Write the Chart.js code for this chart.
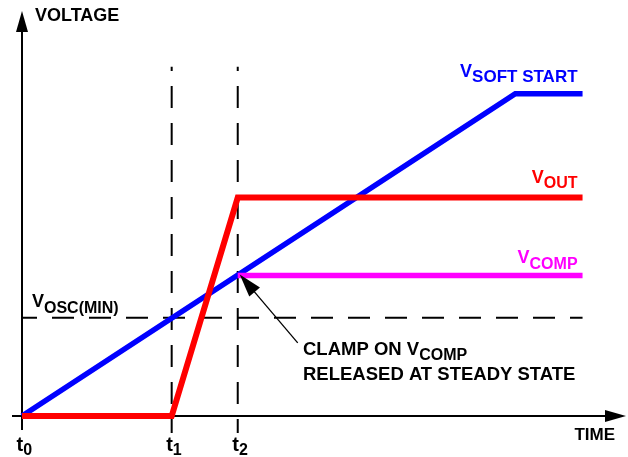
<!DOCTYPE html>
<html>
<head>
<meta charset="utf-8">
<script src="https://cdn.jsdelivr.net/npm/chart.js@4.4.1/dist/chart.umd.min.js"></script>
<style>
  html, body { margin: 0; padding: 0; background: #fff; }
  canvas { display: block; }
</style>
</head>
<body>
<canvas id="chart" width="628" height="457"></canvas>
<script>
// time and voltage in arbitrary units
const T1 = 2.47;
const T2 = 3.56;
const T_RAMP_END = 8.14;
const T_END = 9.25;

const softStartT = [0, T_RAMP_END, T_END];
const softStartV = [0, 3.97, 3.97];
const voutT = [0, T1, T2, T_END];
const voutV = [0, 0, 2.69, 2.69];
const vcompT = [T2, T_END];
const vcompV = [1.73, 1.73];
const voscMinV = 1.21;

const markerTimes = [T1, T2];
const markerSpan = [-0.21, 4.30];
const tickNames = ['0', '1', '2'];
const tickTimes = [0, T1, T2];

const clampTail = [4.55, 0.90];

const FONT = '"Liberation Sans", Arial, sans-serif';

function pts(xs, ys) {
    return xs.map((x, i) => ({x: x, y: ys[i]}));
}

function lineSet(data, color, width) {
    return {
        data: data,
        borderColor: color,
        borderWidth: width,
        pointRadius: 0,
        showLine: true,
        fill: false,
        tension: 0,
        borderJoinStyle: 'miter',
        borderCapStyle: 'butt',
        clip: false
    };
}

function dashSet(data, offset) {
    const ds = lineSet(data, '#000', 2);
    ds.borderDash = [22, 15];
    ds.borderDashOffset = offset;
    return ds;
}

// text with a subscript, anchored at x (left or right)
function subText(ctx, x, y, main, sub, color, opts) {
    const o = Object.assign({size: 18, subSize: 16, drop: 5, align: 'left'}, opts || {});
    ctx.fillStyle = color;
    ctx.textBaseline = 'alphabetic';
    ctx.textAlign = 'left';
    ctx.font = 'bold ' + o.size + 'px ' + FONT;
    const w1 = ctx.measureText(main).width;
    ctx.font = 'bold ' + o.subSize + 'px ' + FONT;
    const w2 = ctx.measureText(sub).width;
    let x0 = o.align === 'right' ? x - w1 - w2 : x;
    ctx.font = 'bold ' + o.size + 'px ' + FONT;
    ctx.fillText(main, x0, y);
    ctx.font = 'bold ' + o.subSize + 'px ' + FONT;
    ctx.fillText(sub, x0 + w1, y + o.drop);
    return x0 + w1 + w2;
}

function arrowHead(ctx, tipX, tipY, fromX, fromY, len, half) {
    const a = Math.atan2(tipY - fromY, tipX - fromX);
    const bx = tipX - len * Math.cos(a), by = tipY - len * Math.sin(a);
    ctx.beginPath();
    ctx.moveTo(tipX, tipY);
    ctx.lineTo(bx + half * Math.sin(a), by - half * Math.cos(a));
    ctx.lineTo(bx - half * Math.sin(a), by + half * Math.cos(a));
    ctx.closePath();
    ctx.fill();
}

const axesPlugin = {
    id: 'axes',
    beforeDatasetsDraw(chart) {
        const ctx = chart.ctx;
        const x = chart.scales.x, y = chart.scales.y;
        const x0 = x.getPixelForValue(0), y0 = y.getPixelForValue(0);
        ctx.save();
        ctx.strokeStyle = '#000';
        ctx.fillStyle = '#000';
        ctx.lineWidth = 2;
        ctx.beginPath();
        ctx.moveTo(x0, y0);
        ctx.lineTo(x0, 30);
        ctx.moveTo(x0 - 10, y0);
        ctx.lineTo(606, y0);
        ctx.moveTo(x0, y0);
        ctx.lineTo(x0, y0 + 14);
        ctx.stroke();
        arrowHead(ctx, x0, 11, x0, y0, 21, 6);
        arrowHead(ctx, 626, y0, x0, y0, 21, 6);
        ctx.restore();
    },
    afterDatasetsDraw(chart) {
        const ctx = chart.ctx;
        const x = chart.scales.x, y = chart.scales.y;
        const xEnd = x.getPixelForValue(T_END) - 5;
        ctx.save();

        ctx.fillStyle = '#000';
        ctx.font = 'bold 18px ' + FONT;
        ctx.textAlign = 'left';
        ctx.fillText('VOLTAGE', 35, 21);
        ctx.font = 'bold 17px ' + FONT;
        ctx.textAlign = 'right';
        ctx.fillText('TIME', 615, 440);

        subText(ctx, xEnd, y.getPixelForValue(softStartV[2]) - 17, 'V', 'SOFT START', '#0000ff', {align: 'right', subSize: 17, drop: 5});
        subText(ctx, xEnd, y.getPixelForValue(voutV[3]) - 15, 'V', 'OUT', '#ff0000', {align: 'right', drop: 5});
        subText(ctx, xEnd, y.getPixelForValue(vcompV[1]) - 13, 'V', 'COMP', '#ff00ff', {align: 'right', drop: 6});
        subText(ctx, x.getPixelForValue(0) + 10, y.getPixelForValue(voscMinV) - 10.5, 'V', 'OSC(MIN)', '#000', {drop: 6});

        tickTimes.forEach((t, i) => {
            subText(ctx, x.getPixelForValue(t) - 5.5, 451, 't', tickNames[i], '#000', {size: 20, subSize: 16, drop: 4});
        });

        // clamp annotation
        const tipX = x.getPixelForValue(T2) + 2, tipY = y.getPixelForValue(vcompV[0]) - 1;
        const tailX = x.getPixelForValue(clampTail[0]), tailY = y.getPixelForValue(clampTail[1]);
        const len = Math.hypot(tailX - tipX, tailY - tipY);
        ctx.strokeStyle = '#000';
        ctx.fillStyle = '#000';
        ctx.lineWidth = 1.3;
        ctx.beginPath();
        ctx.moveTo(tailX, tailY);
        ctx.lineTo(tipX + 8 * (tailX - tipX) / len, tipY + 8 * (tailY - tipY) / len);
        ctx.stroke();
        arrowHead(ctx, tipX, tipY, tailX, tailY, 23, 7);

        subText(ctx, 303, 355, 'CLAMP ON V', 'COMP', '#000', {size: 18.5, drop: 5});
        ctx.font = 'bold 18.5px ' + FONT;
        ctx.textAlign = 'left';
        ctx.fillText('RELEASED AT STEADY STATE', 303, 380);
        ctx.restore();
    }
};

new Chart(document.getElementById('chart'), {
    type: 'scatter',
    data: {
        datasets: [
            lineSet(pts(voutT, voutV), '#ff0000', 6),
            lineSet(pts(vcompT, vcompV), '#ff00ff', 5.5),
            lineSet(pts(softStartT, softStartV), '#0000ff', 5.5),
            dashSet(pts([0, T_END], [voscMinV, voscMinV]), 7),
            dashSet(pts([markerTimes[0], markerTimes[0]], markerSpan), 8),
            dashSet(pts([markerTimes[1], markerTimes[1]], markerSpan), 8)
        ]
    },
    options: {
        responsive: false,
        animation: false,
        devicePixelRatio: 1,
        layout: {padding: {left: 22, right: 0, top: 10, bottom: 41}},
        plugins: {legend: {display: false}, tooltip: {enabled: false}},
        scales: {
            x: {type: 'linear', display: false, min: 0, max: 10},
            y: {type: 'linear', display: false, min: 0, max: 5}
        }
    },
    plugins: [axesPlugin]
});
</script>
</body>
</html>
